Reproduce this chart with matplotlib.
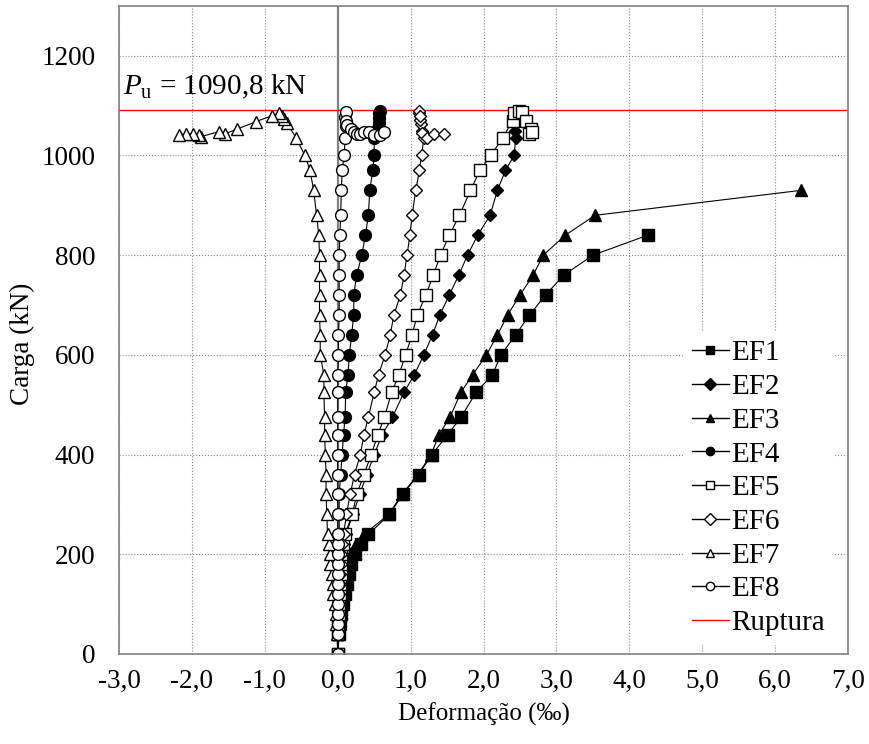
import numpy as np
import matplotlib
matplotlib.use('Agg')
import matplotlib.pyplot as plt

plt.rcParams['font.family'] = 'Liberation Serif'
plt.rcParams['mathtext.fontset'] = 'custom'
plt.rcParams['mathtext.rm'] = 'Liberation Serif'
plt.rcParams['mathtext.it'] = 'Liberation Serif:italic'

# common load steps (kN)
carga = [0, 40, 60, 80, 100, 120, 140, 160, 180, 200, 220, 240, 280, 320, 360,
         400, 440, 475, 525, 560, 600, 640, 680, 720, 760, 800, 840, 880, 930,
         970, 1000, 1035]

# strains (per mil), one value per load step
ef1_def = [0, 0.02, 0.03, 0.05, 0.07, 0.10, 0.13, 0.15, 0.18, 0.23, 0.32, 0.42,
           0.71, 0.89, 1.11, 1.29, 1.51, 1.69, 1.90, 2.12, 2.24, 2.44, 2.63, 2.85,
           3.10, 3.50, 4.25]
ef2_def = [0, 0.01, 0.01, 0.02, 0.02, 0.03, 0.03, 0.04, 0.05, 0.06, 0.08, 0.11,
           0.21, 0.30, 0.40, 0.50, 0.61, 0.75, 0.91, 1.05, 1.18, 1.30, 1.40, 1.53,
           1.66, 1.78, 1.92, 2.09, 2.19, 2.30, 2.42, 2.44]
ef3_def = [0, 0.01, 0.02, 0.03, 0.05, 0.07, 0.09, 0.11, 0.14, 0.18, 0.25, 0.36,
           0.70, 0.88, 1.10, 1.28, 1.39, 1.54, 1.69, 1.85, 2.04, 2.19, 2.33, 2.50,
           2.68, 2.82, 3.12, 3.53, 6.35]
ef4_def = [0, 0, 0, 0.01, 0.01, 0.01, 0.01, 0.01, 0.02, 0.02, 0.02, 0.02, 0.02,
           0.02, 0.04, 0.06, 0.08, 0.10, 0.11, 0.14, 0.16, 0.19, 0.22, 0.22, 0.26,
           0.33, 0.38, 0.42, 0.44, 0.48, 0.50, 0.50]
ef5_def = [0, 0.01, 0.01, 0.02, 0.02, 0.03, 0.03, 0.04, 0.05, 0.05, 0.07, 0.10,
           0.20, 0.26, 0.36, 0.46, 0.55, 0.64, 0.74, 0.84, 0.93, 1.02, 1.09, 1.21,
           1.31, 1.41, 1.53, 1.67, 1.82, 1.95, 2.10, 2.26]
ef6_def = [0, 0.01, 0.01, 0.01, 0.02, 0.02, 0.03, 0.03, 0.04, 0.05, 0.06, 0.08,
           0.12, 0.17, 0.23, 0.31, 0.36, 0.42, 0.50, 0.56, 0.65, 0.72, 0.77, 0.86,
           0.91, 0.95, 0.99, 1.02, 1.07, 1.12, 1.15, 1.18]
ef7_def = [0, -0.01, -0.02, -0.03, -0.04, -0.06, -0.07, -0.08, -0.10, -0.11,
           -0.12, -0.14, -0.15, -0.16, -0.16, -0.17, -0.18, -0.18, -0.19, -0.19,
           -0.24, -0.24, -0.25, -0.25, -0.25, -0.25, -0.26, -0.29, -0.33, -0.38,
           -0.45]
ef8_def = [0, 0, 0, 0, 0, 0, 0, 0, 0, 0, 0, 0, 0, 0, 0, 0, 0, 0, 0, 0, 0.01, 0.01,
           0.02, 0.02, 0.02, 0.02, 0.03, 0.04, 0.05, 0.06, 0.09, 0.10]

# readings near failure (load, strain)
ef2_topo_carga = [1050, 1065, 1080, 1088]
ef2_topo_def = [2.43, 2.43, 2.44, 2.45]
ef4_topo_carga = [1045, 1055, 1065, 1075, 1085, 1090]
ef4_topo_def = [0.53, 0.55, 0.56, 0.57, 0.57, 0.58]
ef5_topo_carga = [1070, 1085, 1090, 1088, 1070, 1053, 1044, 1048]
ef5_topo_def = [2.40, 2.42, 2.49, 2.53, 2.58, 2.65, 2.62, 2.66]
ef6_topo_carga = [1050, 1063, 1072, 1085, 1090, 1080, 1046, 1036, 1043, 1043]
ef6_topo_def = [1.16, 1.14, 1.13, 1.12, 1.12, 1.13, 1.16, 1.22, 1.32, 1.46]
ef7_topo_carga = [1035, 1066, 1073, 1080, 1086, 1080, 1068, 1053, 1044, 1048,
                  1038, 1042, 1044, 1043, 1042]
ef7_topo_def = [-0.57, -0.70, -0.74, -0.76, -0.80, -0.90, -1.12, -1.38, -1.54,
                -1.63, -1.87, -1.90, -1.99, -2.08, -2.18]
ef8_topo_carga = [1060, 1078, 1088, 1070, 1061, 1053, 1048, 1043, 1043, 1048,
                  1048, 1041, 1042, 1047]
ef8_topo_def = [0.11, 0.10, 0.11, 0.11, 0.13, 0.18, 0.22, 0.27, 0.31, 0.36,
                0.43, 0.50, 0.58, 0.63]

P_u = 1090.8

series = [
    ('EF1', ef1_def, [], [], 's', 'black'),
    ('EF2', ef2_def, ef2_topo_def, ef2_topo_carga, 'D', 'black'),
    ('EF3', ef3_def, [], [], '^', 'black'),
    ('EF4', ef4_def, ef4_topo_def, ef4_topo_carga, 'o', 'black'),
    ('EF5', ef5_def, ef5_topo_def, ef5_topo_carga, 's', 'white'),
    ('EF6', ef6_def, ef6_topo_def, ef6_topo_carga, 'D', 'white'),
    ('EF7', ef7_def, ef7_topo_def, ef7_topo_carga, '^', 'white'),
    ('EF8', ef8_def, ef8_topo_def, ef8_topo_carga, 'o', 'white'),
]
tamanho = {'s': 8, 'D': 6.5, '^': 8.5, 'o': 8.5}

fig = plt.figure(figsize=(8.7, 7.44), dpi=100)
ax = fig.add_axes([0.1368, 0.121, 0.838, 0.871])

for nome, d, d_top, c_top, mk, fc in series:
    x = list(d) + list(d_top)
    y = carga[:len(d)] + list(c_top)
    ax.plot(x, y, color='black', lw=0.8, marker=mk, markersize=tamanho[mk],
            markerfacecolor=fc, markeredgecolor='black', markeredgewidth=1.0,
            label=nome)

ax.axhline(P_u, color='red', lw=1.0, label='Ruptura', zorder=1)
ax.axvline(0, color='#808080', lw=1.6, zorder=0.5)

ax.set_xlim(-3, 7)
ax.set_ylim(0, 1300)
ax.set_xticks(np.arange(-3, 8, 1))
ax.set_xticklabels([f'{v:.1f}'.replace('.', ',') for v in np.arange(-3, 8, 1)])
ax.set_yticks(np.arange(0, 1201, 200))
ax.tick_params(labelsize=19.5, length=0)
ax.tick_params(axis='x', pad=11)
ax.tick_params(axis='y', pad=17)
ax.grid(True, ls=':', color='#8c8c8c', lw=0.8)
ax.set_axisbelow(True)
for s in ax.spines.values():
    s.set_color('#808080')
    s.set_linewidth(1.2)

ax.set_xlabel('Deformação (‰)', fontsize=18, labelpad=6)
ax.set_ylabel('Carga (kN)', fontsize=19.5)
ax.yaxis.set_label_coords(-0.115, 0.479)

ax.text(-2.94, 1122, r'$P_\mathrm{u}$ = 1090,8 kN', fontsize=21, va='baseline')

leg = ax.legend(loc='lower left', bbox_to_anchor=(0.774, 0.014), fontsize=21,
                frameon=True, framealpha=1, edgecolor='none', fancybox=False,
                handlelength=1.25, handletextpad=0.1, labelspacing=0.25,
                borderpad=0.3, borderaxespad=0)
for h in leg.get_lines():
    h.set_linewidth(1.0)
    h.set_markersize(6)

fig.savefig('out.png', dpi=100)
